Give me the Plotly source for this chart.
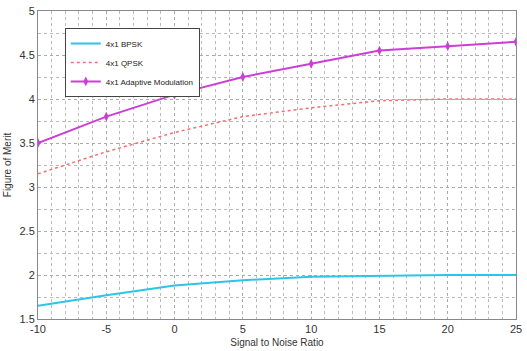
import plotly.graph_objects as go

snr = [-10, -5, 0, 5, 10, 15, 20, 25]
bpsk = [1.65, 1.77, 1.88, 1.94, 1.98, 1.99, 2.0, 2.0]
qpsk = [3.15, 3.40, 3.62, 3.80, 3.90, 3.98, 4.0, 4.0]
adaptive = [3.50, 3.80, 4.05, 4.25, 4.40, 4.55, 4.60, 4.65]
x_ticks = [-10, -5, 0, 5, 10, 15, 20, 25]
x_labels = ["-10", "-5", "0", "5", "10", "15", "20", "25"]

fig = go.Figure()
fig.add_trace(go.Scatter(x=snr, y=bpsk, mode="lines", name="4x1 BPSK",
                         line=dict(color="#2ec4e8", width=2)))
fig.add_trace(go.Scatter(x=snr, y=qpsk, mode="lines", name="4x1 QPSK",
                         line=dict(color="#f07070", width=1.5, dash="dot")))
fig.add_trace(go.Scatter(x=snr, y=adaptive, mode="lines+markers", name="4x1 Adaptive Modulation",
                         line=dict(color="#cc3fd6", width=2),
                         marker=dict(symbol="diamond-tall", size=7, color="#cc3fd6")))

font = dict(family="Liberation Sans, Arial", size=11, color="#333")
fig.update_layout(
    width=527, height=351,
    margin=dict(l=38, r=5, t=11, b=27),
    paper_bgcolor="white", plot_bgcolor="white",
    font=font,
    showlegend=True,
    legend=dict(x=0.056, y=0.945, xanchor="left", yanchor="top",
                bgcolor="white", bordercolor="#444", borderwidth=1,
                font=dict(family="Liberation Sans, Arial", size=8, color="#222"),
                tracegroupgap=0, itemwidth=30),
    xaxis=dict(range=[-10, 25], tickvals=x_ticks, ticktext=x_labels, showgrid=True, gridcolor="#aaa",
               griddash="dot", gridwidth=1, zeroline=False, showline=True,
               linecolor="#888", mirror=True, ticks="", ticklabeloverflow="allow",
               minor=dict(dtick=1, showgrid=True, gridcolor="#bbb", griddash="dot"),
               title=dict(text="Signal to Noise Ratio", font=dict(size=10), standoff=4),
               tickfont=dict(size=11)),
    yaxis=dict(range=[1.5, 5], dtick=0.5, showgrid=True, gridcolor="#aaa",
               griddash="dot", gridwidth=1, zeroline=False, showline=True,
               linecolor="#888", mirror=True, ticks="",
               minor=dict(dtick=0.25, showgrid=True, gridcolor="#bbb", griddash="dot"),
               title=dict(text="Figure of Merit", font=dict(size=10), standoff=6),
               tickfont=dict(size=11)),
)
fig.write_html("out.html")
